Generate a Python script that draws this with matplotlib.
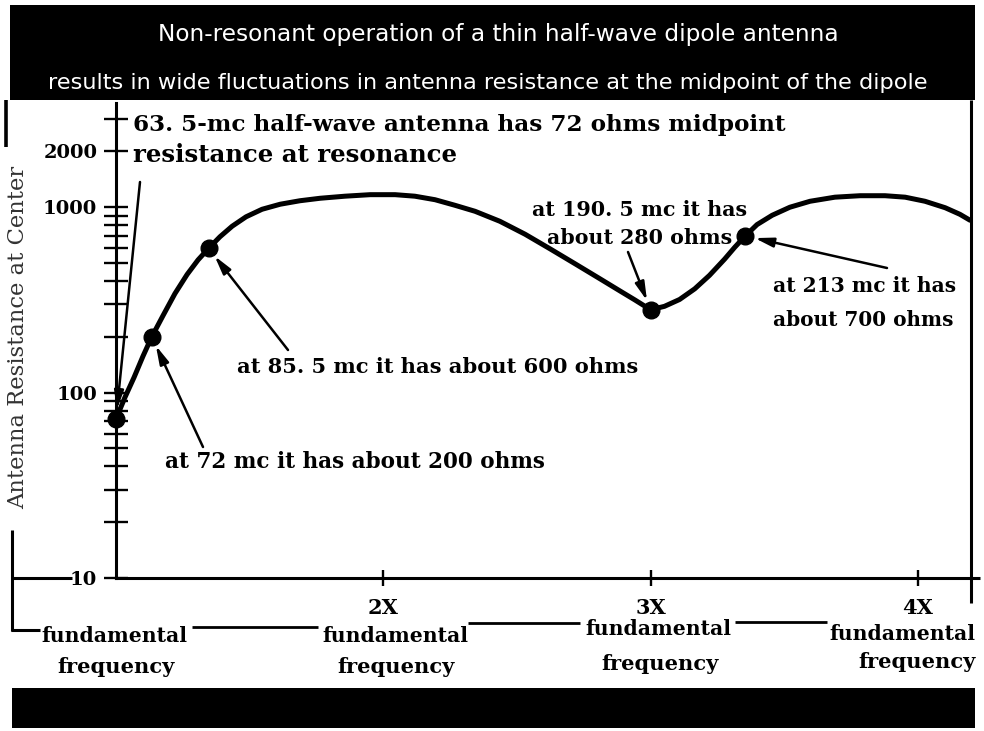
import matplotlib
matplotlib.use("Agg")
import matplotlib.pyplot as plt
from matplotlib.lines import Line2D
from matplotlib.patches import Rectangle
from matplotlib.ticker import FixedLocator, FixedFormatter, NullFormatter

W, H, DPI = 984, 731, 100

# Operating points called out on the chart: frequency (mc) and midpoint resistance (ohms)
point_mc = [63.5, 72.0, 85.5, 190.5, 213.0]
point_ohms = [72, 200, 600, 280, 700]

# Resistance curve across the band
curve_mc = [63.5, 65.6, 67.8, 69.9, 72.0, 74.7, 77.5, 80.4, 83.0, 85.5,
            88.2, 91.1, 94.4, 98.2, 102.5, 107.2, 112.0, 117.9, 123.9, 129.8,
            134.5, 139.3, 144.0, 148.8, 154.7, 160.7, 166.6, 172.6, 178.5, 183.2,
            186.8, 190.5, 193.8, 197.4, 201.0, 204.5, 208.1, 210.5, 213.0, 215.8,
            219.4, 223.6, 228.4, 234.3, 240.3, 246.2, 251.0, 255.7, 260.5, 264.0,
            266.4]
curve_ohms = [72, 94, 121, 157, 200, 261, 342, 434, 520, 600,
              693, 790, 888, 975, 1038, 1084, 1118, 1147, 1169, 1169,
              1147, 1098, 1025, 951, 840, 715, 597, 495, 411, 354,
              316, 280, 292, 318, 363, 429, 525, 608, 700, 806,
              905, 1000, 1077, 1133, 1154, 1154, 1133, 1077, 994, 916,
              851]

fundamental_mc = 63.5
harmonic_mc = [127.0, 190.5, 254.0]
harmonic_labels = ["2X", "3X", "4X"]

major_ohms = [10, 100, 1000, 2000]
major_labels = ["10", "100", "1000", "2000"]
minor_ohms = [20, 30, 40, 50, 60, 70, 80, 90,
              200, 300, 400, 500, 600, 700, 800, 900, 3000]

title_lines = ["Non-resonant operation of a thin half-wave dipole antenna",
               "results in wide fluctuations in antenna resistance at the midpoint of the dipole"]
ylabel = "Antenna Resistance at Center"

SERIF = "DejaVu Serif"
SANS = "DejaVu Sans"


def fx(x):
    return x / W


def fy(y):
    return 1 - y / H


fig = plt.figure(figsize=(W / DPI, H / DPI), dpi=DPI)
fig.patch.set_facecolor("white")

AX_L, AX_R, AX_T, AX_B = 116, 970, 103, 578
ax = fig.add_axes([fx(AX_L), fy(AX_B), (AX_R - AX_L) / W, (AX_B - AX_T) / H])
ax.set_yscale("log")
ax.set_xlim(fundamental_mc, 266.4)
ax.set_ylim(10, 3650)

for side in ("top", "right"):
    ax.spines[side].set_visible(False)
for side in ("left", "bottom"):
    ax.spines[side].set_linewidth(2.2)

ax.yaxis.set_major_locator(FixedLocator(major_ohms))
ax.yaxis.set_major_formatter(FixedFormatter(major_labels))
ax.yaxis.set_minor_locator(FixedLocator(minor_ohms))
ax.yaxis.set_minor_formatter(NullFormatter())
ax.tick_params(axis="y", which="both", direction="inout", length=17, width=1.7,
               pad=5, labelsize=14)
ax.set_xticks(harmonic_mc, harmonic_labels)
ax.tick_params(axis="x", which="major", direction="inout", length=11.5, width=1.7,
               pad=9, labelsize=15)
for lab in ax.get_xticklabels() + ax.get_yticklabels():
    lab.set_family(SERIF)
    lab.set_weight("bold")

# resistance curve and the marked points
ax.plot(curve_mc, curve_ohms, color="black", lw=3.6,
        solid_joinstyle="round", solid_capstyle="round")
ax.plot(point_mc, point_ohms, "o", ms=12, color="black", clip_on=False, zorder=4)

# arrows from the notes to the points
arrow_tails = [(140, 182), (203, 447), (288, 350), (628, 252), (887, 268)]
for (tx, ty), mc, ohm in zip(arrow_tails, point_mc, point_ohms):
    ax.annotate("", xy=(mc, ohm), xycoords="data",
                xytext=(fx(tx), fy(ty)), textcoords="figure fraction",
                arrowprops=dict(arrowstyle="-|>,head_length=0.55,head_width=0.14",
                                lw=1.8, color="black", shrinkA=0, shrinkB=7,
                                mutation_scale=20))

# header and footer bands
fig.add_artist(Rectangle((fx(10), fy(100)), (975 - 10) / W, (100 - 5) / H,
                         transform=fig.transFigure, facecolor="black",
                         edgecolor="none", zorder=5))
fig.add_artist(Rectangle((fx(12), fy(728)), (975 - 12) / W, (728 - 688) / H,
                         transform=fig.transFigure, facecolor="black",
                         edgecolor="none", zorder=5))


def hline(x0, x1, y, lw=2.2):
    fig.add_artist(Line2D([fx(x0), fx(x1)], [fy(y), fy(y)], color="black",
                          lw=lw, transform=fig.transFigure, solid_capstyle="butt"))


def vline(x, y0, y1, lw=2.2):
    fig.add_artist(Line2D([fx(x), fx(x)], [fy(y0), fy(y1)], color="black",
                          lw=lw, transform=fig.transFigure, solid_capstyle="butt"))


vline(971, 100, 603)
hline(970, 980, AX_B)
vline(6, 100, 147, lw=2.6)
vline(12, 530, 631)
hline(11, 40, 630)
hline(11, 72, AX_B)
hline(192, 318, 627, lw=2.0)
hline(468, 580, 623, lw=2.0)
hline(735, 827, 622, lw=2.0)

texts = []


def put(x, y, s, width=None, height=None, **kw):
    t = fig.text(fx(x), fy(y), s, **kw)
    texts.append((t, width, height))
    return t


white = dict(color="white", family=SANS, fontsize=15, ha="center", va="center", zorder=6)
put(498, 35, title_lines[0], width=680, **white)
put(488, 83, title_lines[1], width=883, **white)

note = dict(family=SERIF, weight="bold", fontsize=15, color="black", va="center")
put(133, 125, "63. 5-mc half-wave antenna has 72 ohms midpoint", width=657, ha="left", **note)
put(133, 155, "resistance at resonance", width=326, ha="left", **note)
put(165, 462, "at 72 mc it has about 200 ohms", width=382, ha="left", **note)
put(237, 367, "at 85. 5 mc it has about 600 ohms", width=401, ha="left", **note)
put(640, 210, "at 190. 5 mc it has", width=216, ha="center", **note)
put(640, 238, "about 280 ohms", width=185, ha="center", **note)
put(773, 286, "at 213 mc it has", width=184, ha="left", **note)
put(773, 320, "about 700 ohms", width=180, ha="left", **note)

put(18, 337, ylabel, height=345, family=SERIF, fontsize=14, color="#333333",
    rotation=90, ha="center", va="center")

foot = dict(family=SERIF, weight="bold", fontsize=15, color="black", va="center")
fund_pos = [(114, 636), (395, 636), (658, 629), (902, 634)]
freq_pos = [(116, 667), (396, 667), (660, 664), (917, 662)]
for (x, y) in fund_pos:
    put(x, y, "fundamental", width=146, ha="center", **foot)
for (x, y) in freq_pos:
    put(x, y, "frequency", width=117, ha="center", **foot)

# size each caption to its measured span
fig.canvas.draw()
renderer = fig.canvas.get_renderer()
for t, width, height in texts:
    ext = t.get_window_extent(renderer)
    if width:
        t.set_fontsize(t.get_fontsize() * width / ext.width)
    elif height:
        t.set_fontsize(t.get_fontsize() * height / ext.height)

fig.savefig("out.png", dpi=DPI, facecolor="white")
